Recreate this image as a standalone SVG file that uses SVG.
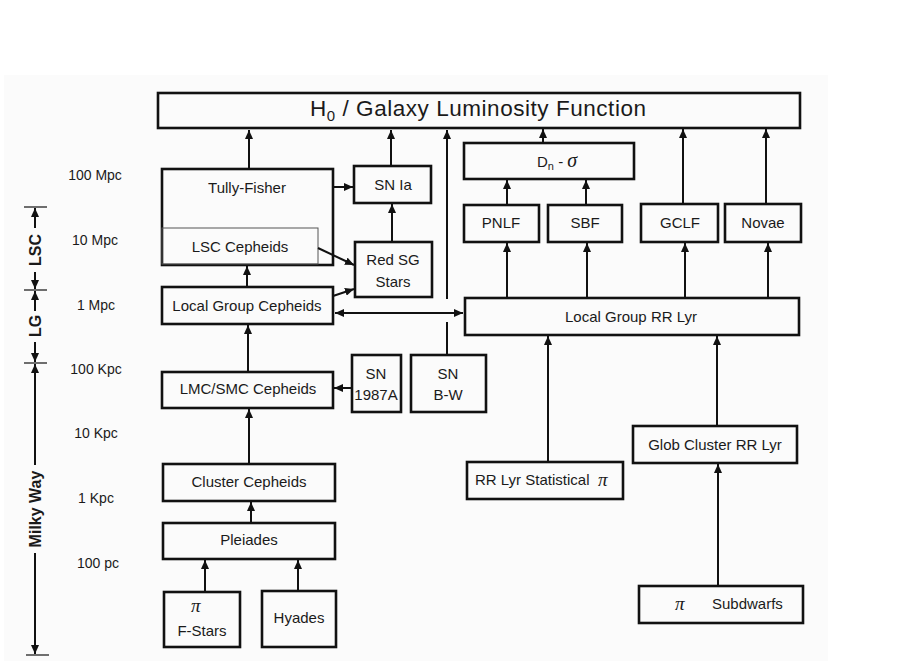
<svg xmlns="http://www.w3.org/2000/svg" width="898" height="661" viewBox="0 0 898 661">
<style>
.box{fill:none;stroke:#111;stroke-width:2.6}
.thin{fill:none;stroke:#555;stroke-width:1}
.t{font-family:"Liberation Sans",Arial,sans-serif;font-size:15px;fill:#1a1a1a;text-anchor:middle}
.s{font-family:"Liberation Sans",Arial,sans-serif;font-size:14px;fill:#1a1a1a;text-anchor:middle}
.b{font-family:"Liberation Sans",Arial,sans-serif;font-size:16px;font-weight:bold;fill:#1a1a1a;text-anchor:middle}
.g{font-family:"Liberation Serif","DejaVu Serif",serif;font-style:italic;font-size:19px;fill:#1a1a1a}
.c line,.c path{stroke:#111;stroke-width:2;fill:none}
.a{marker-end:url(#ah)}
.d{marker-start:url(#ah);marker-end:url(#ah)}
</style>
<defs>
<marker id="ah" markerUnits="userSpaceOnUse" markerWidth="10" markerHeight="8" refX="9" refY="4" orient="auto-start-reverse">
<path d="M0,0 L9,4 L0,8 z" fill="#111"/>
</marker>
</defs>
<rect x="0" y="0" width="898" height="661" fill="#ffffff"/>
<rect x="4" y="75" width="824" height="586" fill="#fbfbfb"/>

<g id="scale">
<g class="c">
<line x1="24" y1="207" x2="47" y2="207" style="stroke-width:1.2"/>
<line x1="24" y1="290" x2="47" y2="290" style="stroke-width:1.2"/>
<line x1="24" y1="363" x2="47" y2="363" style="stroke-width:1.2"/>
<line x1="26" y1="655" x2="49" y2="655" style="stroke-width:1.2"/>
<line x1="35" y1="228" x2="35" y2="208" class="a"/>
<line x1="35" y1="272" x2="35" y2="289" class="a"/>
<line x1="35" y1="311" x2="35" y2="291" class="a"/>
<line x1="35" y1="342" x2="35" y2="362" class="a"/>
<line x1="35" y1="465" x2="35" y2="364" class="a"/>
<line x1="35" y1="553" x2="35" y2="654" class="a"/>
</g>
<text class="b" transform="translate(41,250) rotate(-90)">LSC</text>
<text class="b" transform="translate(41,326) rotate(-90)">LG</text>
<text class="b" transform="translate(41,509) rotate(-90)">Milky Way</text>
<text class="s" x="95" y="180">100 Mpc</text>
<text class="s" x="95" y="245">10 Mpc</text>
<text class="s" x="96" y="310">1 Mpc</text>
<text class="s" x="96" y="374">100 Kpc</text>
<text class="s" x="96" y="438">10 Kpc</text>
<text class="s" x="96" y="503">1 Kpc</text>
<text class="s" x="98" y="568">100 pc</text>
</g>

<g id="h0">
<rect class="box" x="158" y="93" width="642" height="35"/>
<text x="478" y="116" textLength="336" lengthAdjust="spacing" style="font-family:'Liberation Sans',Arial,sans-serif;font-size:22.5px;fill:#1a1a1a;text-anchor:middle">H<tspan font-size="15" dy="5">0</tspan><tspan dy="-5"> / Galaxy Luminosity Function</tspan></text>
</g>
<g id="tully">
<rect class="box" x="162" y="169" width="171" height="96"/>
<text class="t" x="247" y="193">Tully-Fisher</text>
</g>
<g id="lscceph">
<rect class="thin" x="162" y="228" width="156" height="36"/>
<text class="t" x="240" y="252">LSC Cepheids</text>
</g>
<g id="snia">
<rect class="box" x="354" y="166" width="77" height="37"/>
<text class="t" x="393" y="190">SN Ia</text>
</g>
<g id="redsg">
<rect class="box" x="355" y="242" width="77" height="55"/>
<text class="t" x="393" y="265">Red SG</text>
<text class="t" x="393" y="287">Stars</text>
</g>
<g id="lgceph">
<rect class="box" x="162" y="287" width="171" height="37"/>
<text class="t" x="247" y="311">Local Group Cepheids</text>
</g>
<g id="sn1987a">
<rect class="box" x="352" y="355" width="49" height="57"/>
<text class="t" x="376" y="379">SN</text>
<text class="t" x="376" y="400">1987A</text>
</g>
<g id="snbw">
<rect class="box" x="411" y="355" width="75" height="57"/>
<text class="t" x="448" y="379">SN</text>
<text class="t" x="448" y="400">B-W</text>
</g>
<g id="lmc">
<rect class="box" x="162" y="372" width="171" height="36"/>
<text class="t" x="248" y="394">LMC/SMC Cepheids</text>
</g>
<g id="cluster">
<rect class="box" x="163" y="464" width="172" height="37"/>
<text class="t" x="249" y="487">Cluster Cepheids</text>
</g>
<g id="pleiades">
<rect class="box" x="163" y="523" width="172" height="36"/>
<text class="t" x="249" y="545">Pleiades</text>
</g>
<g id="fstars">
<rect class="box" x="164" y="592" width="76" height="55"/>
<text class="g" x="191" y="612">π</text>
<text class="t" x="202" y="636">F-Stars</text>
</g>
<g id="hyades">
<rect class="box" x="262" y="591" width="74" height="56"/>
<text class="t" x="299" y="623">Hyades</text>
</g>
<g id="dnsigma">
<rect class="box" x="464" y="143" width="170" height="36"/>
<text x="537" y="167" style="font-family:'Liberation Sans',Arial,sans-serif;font-size:15px;fill:#1a1a1a">D<tspan font-size="11" dy="3">n</tspan><tspan dy="-3"> - </tspan><tspan style="font-family:'Liberation Serif',serif;font-style:italic;font-size:20px">  σ</tspan></text>
</g>
<g id="pnlf">
<rect class="box" x="464" y="205" width="75" height="37"/>
<text class="t" x="501" y="228">PNLF</text>
</g>
<g id="sbf">
<rect class="box" x="548" y="205" width="74" height="37"/>
<text class="t" x="585" y="228">SBF</text>
</g>
<g id="gclf">
<rect class="box" x="641" y="204" width="77" height="38"/>
<text class="t" x="680" y="228">GCLF</text>
</g>
<g id="novae">
<rect class="box" x="725" y="204" width="76" height="38"/>
<text class="t" x="763" y="228">Novae</text>
</g>
<g id="lgrr">
<rect class="box" x="465" y="298" width="334" height="37"/>
<text class="t" x="631" y="322">Local Group RR Lyr</text>
</g>
<g id="rrstat">
<rect class="box" x="467" y="462" width="156" height="37"/>
<text x="475" y="485" style="font-family:'Liberation Sans',Arial,sans-serif;font-size:15px;fill:#1a1a1a">RR Lyr Statistical</text>
<text class="g" x="598" y="486">π</text>
</g>
<g id="globrr">
<rect class="box" x="633" y="426" width="164" height="37"/>
<text class="t" x="715" y="450">Glob Cluster RR Lyr</text>
</g>
<g id="subdwarfs">
<rect class="box" x="639" y="586" width="164" height="37"/>
<text class="g" x="675" y="610">π</text>
<text x="712" y="609" style="font-family:'Liberation Sans',Arial,sans-serif;font-size:15px;fill:#1a1a1a">Subdwarfs</text>
</g>

<g id="connectors" class="c">
<line class="a" x1="249" y1="169" x2="249" y2="130"/>
<line class="a" x1="391" y1="166" x2="391" y2="130"/>
<line class="a" x1="333" y1="187" x2="353" y2="187"/>
<line class="a" x1="392" y1="242" x2="392" y2="204"/>
<line class="a" x1="318" y1="248" x2="354" y2="265"/>
<line class="a" x1="333" y1="296" x2="354" y2="289"/>
<line class="a" x1="247" y1="287" x2="247" y2="266"/>
<line class="d" x1="335" y1="313" x2="463" y2="313"/>
<line class="a" x1="447" y1="299" x2="447" y2="130"/>
<line x1="447" y1="322" x2="447" y2="355"/>
<line class="a" x1="352" y1="388" x2="334" y2="388"/>
<line class="a" x1="248" y1="372" x2="248" y2="325"/>
<line class="a" x1="249" y1="464" x2="249" y2="409"/>
<line class="a" x1="251" y1="523" x2="251" y2="502"/>
<line class="a" x1="205" y1="592" x2="205" y2="560"/>
<line class="a" x1="298" y1="591" x2="298" y2="560"/>
<line class="a" x1="543" y1="143" x2="543" y2="129"/>
<line class="a" x1="507" y1="205" x2="507" y2="180"/>
<line class="a" x1="586" y1="205" x2="586" y2="180"/>
<line class="a" x1="683" y1="204" x2="683" y2="129"/>
<line class="a" x1="766" y1="204" x2="766" y2="129"/>
<line class="a" x1="507" y1="298" x2="507" y2="243"/>
<line class="a" x1="587" y1="298" x2="587" y2="243"/>
<line class="a" x1="685" y1="298" x2="685" y2="243"/>
<line class="a" x1="768" y1="298" x2="768" y2="243"/>
<line class="a" x1="548" y1="462" x2="548" y2="336"/>
<line class="a" x1="717" y1="426" x2="717" y2="336"/>
<line class="a" x1="718" y1="586" x2="718" y2="464"/>
</g>
</svg>
